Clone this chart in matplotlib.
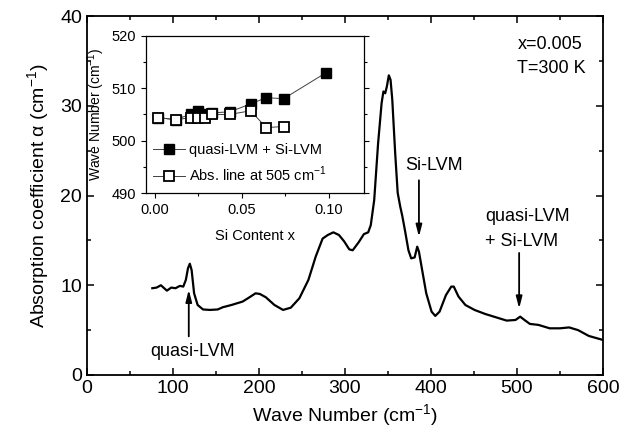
import matplotlib

matplotlib.use("Agg")
import matplotlib.pyplot as plt
from matplotlib.ticker import MultipleLocator

plt.rcParams["font.family"] = ["Liberation Sans", "DejaVu Sans"]
plt.rcParams["mathtext.fontset"] = "custom"
plt.rcParams["mathtext.rm"] = "Liberation Sans"

# absorption spectrum, x = 0.005, T = 300 K
wavenumber = [76, 81, 86, 89, 93, 98, 103, 108, 112, 115, 117.5, 119.6, 121.7,
              124.6, 128.7, 135, 143, 152, 158, 168, 181, 189, 196, 201, 208,
              218, 228, 237, 247, 257.5, 266, 274, 280, 286.5, 293, 299, 305,
              309, 316, 322, 327, 330, 334, 338.5, 342.6, 344.7, 346.8, 348.8,
              351, 353, 355, 358.4, 361.3, 364.2, 366.7, 369.6, 373.8, 377, 381,
              384, 386, 389, 394.5, 400.7, 405, 410, 417.4, 423.6, 426.5, 432,
              440, 450.6, 463, 475.5, 488, 498.3, 503.7, 508.7, 515, 525, 538,
              550, 560.6, 571, 583.5, 600]
alpha = [9.67, 9.74, 10.0, 9.74, 9.4, 9.74, 9.67, 9.93, 9.85, 10.6, 11.9, 12.4,
         11.7, 9.1, 7.8, 7.3, 7.25, 7.3, 7.55, 7.8, 8.18, 8.66, 9.1, 9.03, 8.66,
         7.8, 7.25, 7.5, 8.55, 10.6, 13.2, 15.2, 15.6, 15.9, 15.6, 14.9, 14.0,
         13.9, 14.8, 15.7, 15.9, 16.7, 19.5, 25.8, 30.3, 31.6, 31.4, 32.2, 33.4,
         32.9, 30.7, 24.7, 20.3, 18.8, 17.7, 16.2, 13.9, 13.0, 13.1, 14.3, 13.75,
         12.1, 9.1, 7.06, 6.58, 7.06, 8.9, 9.85, 9.85, 8.74, 7.8, 7.25, 6.8,
         6.43, 6.06, 6.13, 6.5, 6.13, 5.69, 5.58, 5.2, 5.2, 5.3, 5.0, 4.35, 3.9]

# inset: line positions vs Si content
si_lvm_x = [0.002, 0.012, 0.021, 0.025, 0.029, 0.033, 0.043, 0.055, 0.064,
            0.074, 0.098]
si_lvm_wn = [504.4, 504.0, 505.1, 505.6, 505.1, 505.3, 505.5, 507.0, 508.2,
             508.0, 512.9]
abs_x = [0.002, 0.012, 0.021, 0.025, 0.029, 0.033, 0.043, 0.055, 0.064, 0.074]
abs_wn = [504.4, 504.0, 504.4, 504.4, 504.4, 505.0, 505.0, 505.7, 502.5, 502.7]

fig = plt.figure(figsize=(6.21, 4.36), dpi=100)
ax = fig.add_axes([0.140, 0.140, 0.831, 0.823])
ax.plot(wavenumber, alpha, color="k", lw=1.6, solid_joinstyle="round")
ax.set_xlim(0, 600)
ax.set_ylim(0, 40)
ax.xaxis.set_major_locator(MultipleLocator(100))
ax.xaxis.set_minor_locator(MultipleLocator(50))
ax.yaxis.set_major_locator(MultipleLocator(10))
ax.yaxis.set_minor_locator(MultipleLocator(5))
ax.tick_params(which="both", direction="in", top=True, right=True,
               labelsize=14, width=1.1)
ax.tick_params(which="major", length=5)
ax.tick_params(which="minor", length=3)
for sp in ax.spines.values():
    sp.set_linewidth(1.3)
ax.set_xlabel("Wave Number (cm$^{-1}$)", fontsize=14, labelpad=4)
ax.set_ylabel("Absorption coefficient \u03b1 (cm$^{-1}$)", fontsize=14, labelpad=6)

arrow = dict(arrowstyle="-|>,head_width=0.18,head_length=0.7", lw=1.3, color="k",
             shrinkA=0, shrinkB=0)
ax.annotate("", xy=(118.4, 9.5), xytext=(118.4, 4.3), arrowprops=arrow)
ax.text(122.5, 2.6, "quasi-LVM", fontsize=13, ha="center", va="center")
ax.annotate("", xy=(386, 15.4), xytext=(386, 21.7), arrowprops=arrow)
ax.text(403, 23.4, "Si-LVM", fontsize=13, ha="center", va="center")
ax.annotate("", xy=(502.5, 7.4), xytext=(502.5, 13.6), arrowprops=arrow)
ax.text(463, 17.7, "quasi-LVM", fontsize=13, ha="left", va="center")
ax.text(463, 14.9, "+ Si-LVM", fontsize=13, ha="left", va="center")
ax.text(0.834, 0.92, "x=0.005", transform=ax.transAxes, fontsize=13, va="center")
ax.text(0.834, 0.855, "T=300 K", transform=ax.transAxes, fontsize=13, va="center")

ins = fig.add_axes([0.235, 0.557, 0.351, 0.361])
ins.plot(si_lvm_x, si_lvm_wn, color="0.25", lw=0.7, marker="s", ms=7.5,
         mfc="k", mec="k", label="quasi-LVM + Si-LVM")
ins.plot(abs_x, abs_wn, color="0.25", lw=0.7, marker="s", ms=7.5,
         mfc="white", mec="k", mew=1.3, label="Abs. line at 505 cm$^{-1}$")
ins.set_xlim(-0.005, 0.12)
ins.set_ylim(490, 520)
ins.xaxis.set_major_locator(MultipleLocator(0.05))
ins.xaxis.set_minor_locator(MultipleLocator(0.025))
ins.yaxis.set_major_locator(MultipleLocator(10))
ins.yaxis.set_minor_locator(MultipleLocator(5))
ins.set_xticks([0.0, 0.05, 0.10])
ins.set_xticklabels(["0.00", "0.05", "0.10"])
ins.tick_params(which="both", direction="out", labelsize=10.5, width=0.8)
ins.tick_params(which="major", length=3.5)
ins.tick_params(which="minor", length=2)
ins.tick_params(which="both", right=True, top=False)
for sp in ins.spines.values():
    sp.set_linewidth(0.9)
ins.set_xlabel("Si Content x", fontsize=10.5, labelpad=9)
ins.set_ylabel("Wave Number (cm$^{-1}$)", fontsize=10, labelpad=3)
ins.legend(loc="lower left", bbox_to_anchor=(-0.01, 0.0), frameon=False,
           fontsize=10.5, handlelength=2.2, handletextpad=0.3, labelspacing=0.55,
           borderaxespad=0.2)

fig.savefig("out.png", dpi=100)
